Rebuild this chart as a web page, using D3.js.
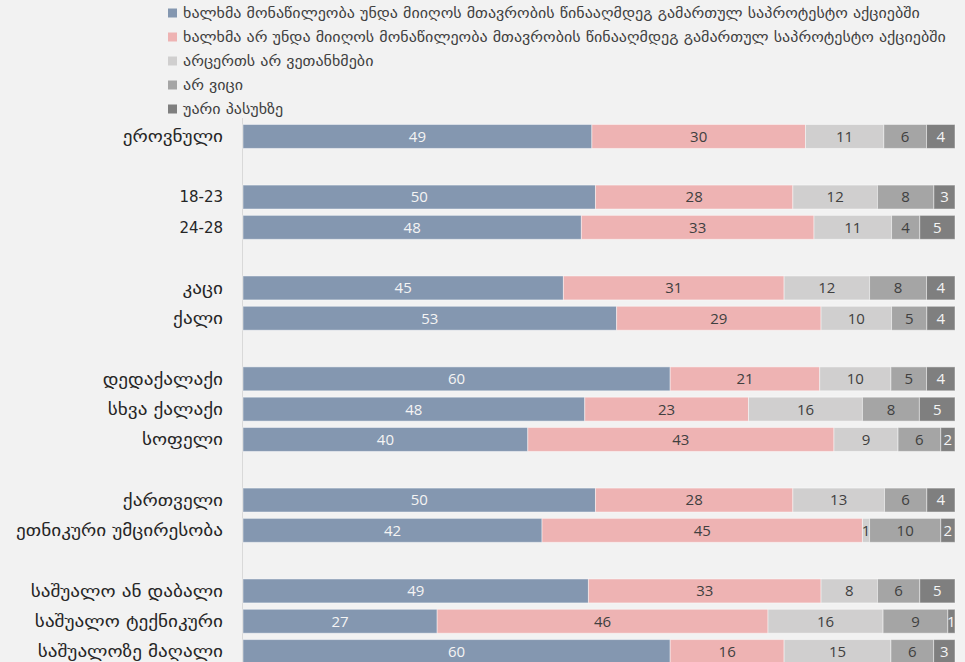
<!DOCTYPE html>
<html><head><meta charset="utf-8">
<script src="https://cdn.jsdelivr.net/npm/d3@7"></script>
<style>
html,body{margin:0;padding:0;background:#f2f2f2;}
svg{display:block;}
</style></head>
<body>
<svg id="chart" width="965" height="662"></svg>
<script>
// ---- data ----
const categories = ["ეროვნული", "", "18-23", "24-28", "", "კაცი", "ქალი", "", "დედაქალაქი", "სხვა ქალაქი", "სოფელი", "", "ქართველი", "ეთნიკური უმცირესობა", "", "საშუალო ან დაბალი", "საშუალო ტექნიკური", "საშუალოზე მაღალი"];
const seriesNames = [
  "ხალხმა მონაწილეობა უნდა მიიღოს მთავრობის წინააღმდეგ გამართულ საპროტესტო აქციებში",
  "ხალხმა არ უნდა მიიღოს მონაწილეობა მთავრობის წინააღმდეგ გამართულ საპროტესტო აქციებში",
  "არცერთს არ ვეთანხმები",
  "არ ვიცი",
  "უარი პასუხზე"
];
// values per non-empty category (in order)
const shouldParticipate = [49, 50, 48, 45, 53, 60, 48, 40, 50, 42, 49, 27, 60];
const shouldNot        = [30, 28, 33, 31, 29, 21, 23, 43, 28, 45, 33, 46, 16];
const neither          = [11, 12, 11, 12, 10, 10, 16, 9, 13, 1, 8, 16, 15];
const dontKnow         = [6, 8, 4, 8, 5, 5, 8, 6, 6, 10, 6, 9, 6];
const refuse           = [4, 3, 5, 4, 4, 4, 5, 2, 4, 2, 5, 1, 3];

const colors = ["#8497b0", "#eeb3b3", "#d0cfcf", "#a5a5a5", "#7f7f7f"];
const labelColors = ["#f4f4f4", "#404040", "#404040", "#404040", "#f4f4f4"];

// ---- build table ----
const seriesVals = [shouldParticipate, shouldNot, neither, dontKnow, refuse];
const keys = ["s0","s1","s2","s3","s4"];
let k = 0;
const rows = categories.map((c, i) => {
  const r = {id: i, label: c, blank: c === ""};
  keys.forEach((key, j) => r[key] = r.blank ? 0 : seriesVals[j][k]);
  if (!r.blank) k++;
  return r;
});
const dataRows = rows.filter(r => !r.blank);

const svg = d3.select("#chart");
const fontNum = "'Open Sans', 'DejaVu Sans', sans-serif";
const fontGeo = "'DejaVu Sans', 'Open Sans', sans-serif";
const isGeorgian = s => /[\u10A0-\u10FF]/.test(s);

const x = d3.scaleLinear().domain([0, 1]).range([243, 955]);
const step = 30.3;
const y = d3.scaleBand().domain(rows.map(r => r.id))
  .range([121.3, 121.3 + categories.length * step])
  .paddingInner(0.21).paddingOuter(0.105);

const stack = d3.stack().keys(keys).offset(d3.stackOffsetExpand);
const stacked = stack(dataRows);

// axis line
svg.append("line").attr("x1", 242.5).attr("x2", 242.5).attr("y1", 118).attr("y2", 662)
  .attr("stroke", "#d9d9d9").attr("stroke-width", 1);

const g = svg.append("g");
stacked.forEach((layer, j) => {
  const lg = g.append("g");
  lg.selectAll("rect").data(layer).join("rect")
    .attr("x", d => x(d[0]))
    .attr("y", d => y(d.data.id))
    .attr("width", d => x(d[1]) - x(d[0]))
    .attr("height", y.bandwidth())
    .attr("fill", colors[j])
    .attr("stroke", "rgba(255,255,255,0.45)")
    .attr("stroke-width", 1);
  lg.selectAll("text").data(layer).join("text")
    .attr("x", d => (x(d[0]) + x(d[1])) / 2)
    .attr("y", d => y(d.data.id) + y.bandwidth() / 2)
    .attr("dy", "0.36em")
    .attr("text-anchor", "middle")
    .attr("font-family", fontNum)
    .attr("font-size", 15)
    .attr("fill", labelColors[j])
    .text(d => d.data[keys[j]]);
});

// category labels
svg.append("g").selectAll("text").data(dataRows).join("text")
  .attr("transform", d => `translate(223,${y(d.id) + y.bandwidth() / 2}) scale(${isGeorgian(d.label) ? 1.2 : 1},1)`)
  .attr("dy", "0.36em")
  .attr("text-anchor", "end")
  .attr("font-family", fontGeo)
  .attr("font-size", d => isGeorgian(d.label) ? 16 : 15)
  .attr("fill", "#262626")
  .text(d => d.label);

// legend
const leg = svg.append("g");
seriesNames.forEach((name, j) => {
  const yy = 13 + j * 24;
  leg.append("rect").attr("x", 168).attr("y", yy - 4.5).attr("width", 9).attr("height", 9).attr("fill", colors[j]);
  leg.append("text").attr("transform", `translate(183,${yy}) scale(1.07,1)`).attr("dy", "0.36em")
    .attr("font-family", fontGeo).attr("font-size", 15).attr("fill", "#404040").text(name);
});
</script>
</body></html>
